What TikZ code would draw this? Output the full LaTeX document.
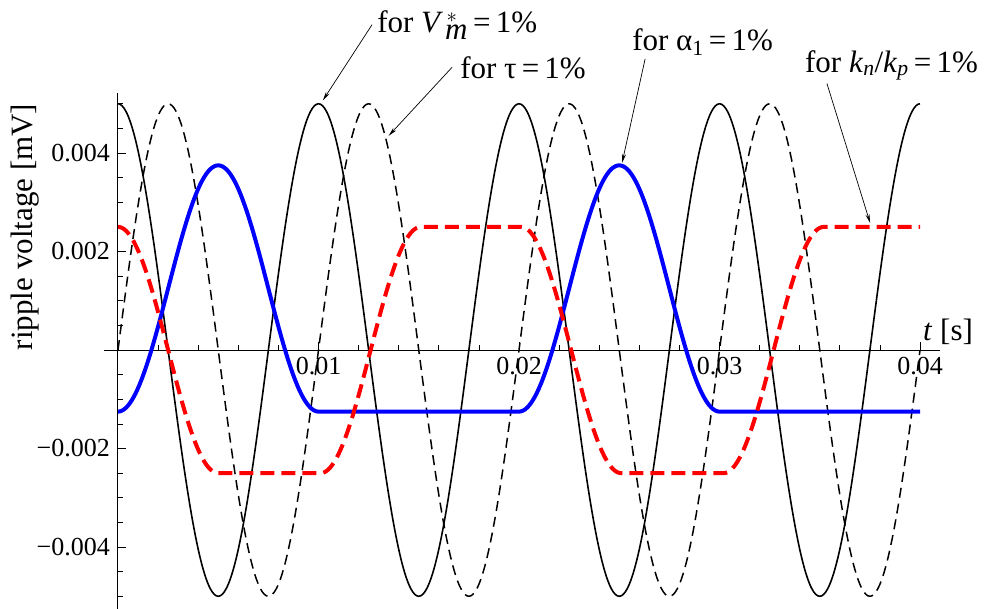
\documentclass[tikz,border=0pt]{standalone}
\usepackage{fontspec}
\setmainfont{Liberation Serif}
\usepackage{tikz}
\definecolor{ripblue}{HTML}{0000FF}
\definecolor{ripred}{HTML}{FF0000}
\usetikzlibrary{arrows.meta}
\tikzset{
  vmcurve/.style={black,line width=1.6pt},
  taucurve/.style={black,line width=1.5pt,dash pattern=on 10pt off 6pt},
  alphacurve/.style={ripblue,line width=4pt,line join=round},
  kcurve/.style={ripred,line width=4pt,dash pattern=on 14pt off 7pt},
  pointer/.style={-{Stealth[length=9pt,width=4pt]},line width=0.7pt},
  ticklbl/.style={font=\fontsize{26}{26}\selectfont,inner sep=1pt},
  lbl/.style={font=\fontsize{31}{31}\selectfont,inner sep=0pt}
}

\begin{document}
\begin{tikzpicture}[x=20.05pt,y=49.25pt]
  \useasboundingbox (-5.885,-5.239) rectangle (43.44,7.107);
  % axes and ticks
  \draw[line width=1pt] (-0.7,0) -- (41,0);
  \draw[line width=1pt] (0,-5.3) -- (0,5.22);
  \foreach \t in {2,4,...,40} \draw[line width=0.8pt] (\t,0) -- ++(0,5pt);
  \foreach \t/\s in {10/0.01,20/0.02,30/0.03,40/0.04} {
    \draw[line width=0.8pt] (\t,0) -- ++(0,8pt);
    \node[ticklbl,anchor=north] (xtick\t) at ([yshift=-6pt]\t,0) {\s};
  }
  \foreach \v in {-5,-4.5,...,5} \draw[line width=0.8pt] (0,\v) -- ++(5pt,0);
  \foreach \v/\s in {4/0.004,2/0.002,-2/−0.002,-4/−0.004} {
    \draw[line width=0.8pt] (0,\v) -- ++(8pt,0);
    \node[ticklbl,anchor=east] (ytick\v) at ([xshift=-7pt]0,\v) {\s};
  }
  \node[lbl,rotate=90] (ylabel) at (-4.65,2.5) {ripple voltage [mV]};
  \node[lbl,anchor=base west] (xlabel) at (40.15,0.203) {\textit{t} [s]};

  % curves
  \draw[vmcurve] plot[domain=0:40,samples=401,smooth] (\x,{5*cos(36*\x)});
  \draw[taucurve] plot[domain=0:40,samples=401,smooth] (\x,{5*sin(36*\x)});
  \draw[alphacurve] plot[domain=0:10,samples=101,smooth] (\x,{-1.25+5*sin(18*\x)^2})
    -- (20,-1.25) -- plot[domain=20:30,samples=101,smooth] (\x,{-1.25+5*sin(18*\x)^2})
    -- (40,-1.25);
  \draw[kcurve] plot[domain=0:5,samples=51,smooth] (\x,{2.5*cos(36*\x)})
    -- (10.1,-2.5) -- plot[domain=10.1:15.1,samples=51,smooth] (\x,{-2.5*cos(36*(\x-10.1))})
    -- (20.1,2.5) -- plot[domain=20.1:25.1,samples=51,smooth] (\x,{2.5*cos(36*(\x-20.1))})
    -- (30.2,-2.5) -- plot[domain=30.2:35.2,samples=51,smooth] (\x,{-2.5*cos(36*(\x-30.2))})
    -- (40,2.5);

  % labels
  \node[lbl,anchor=base west] (lblVm) at (12.92,6.457) {for \textit{V}$^{\,*}_{\kern2pt\textit{m}}$\,=\,1\%};
  \node[lbl,anchor=base west] (lblTau) at (17.06,5.523) {for τ\,=\,1\%};
  \node[lbl,anchor=base west] (lblAlpha) at (25.64,6.091) {for α\textsubscript{1}\,=\,1\%};
  \node[lbl,anchor=base west] (lblK) at (34.26,5.645) {for \textit{k}\textsubscript{\textit{n}}/\textit{k}\textsubscript{\textit{p}}\,=\,1\%};
  \coordinate (tipVm) at (10.22,5.07);
  \coordinate (tipTau) at (13.5,4.35);
  \coordinate (tipAlpha) at (25.14,3.8);
  \coordinate (tipK) at (37.51,2.58);
  \draw[pointer] ([xshift=-5pt]lblVm.west) -- (tipVm);
  \draw[pointer] ([xshift=-8pt]lblTau.west) -- (tipTau);
  \draw[pointer] ([xshift=13pt,yshift=-3pt]lblAlpha.south west) -- (tipAlpha);
  \draw[pointer] ([xshift=22pt,yshift=-3pt]lblK.south west) -- (tipK);
\end{tikzpicture}
\end{document}
